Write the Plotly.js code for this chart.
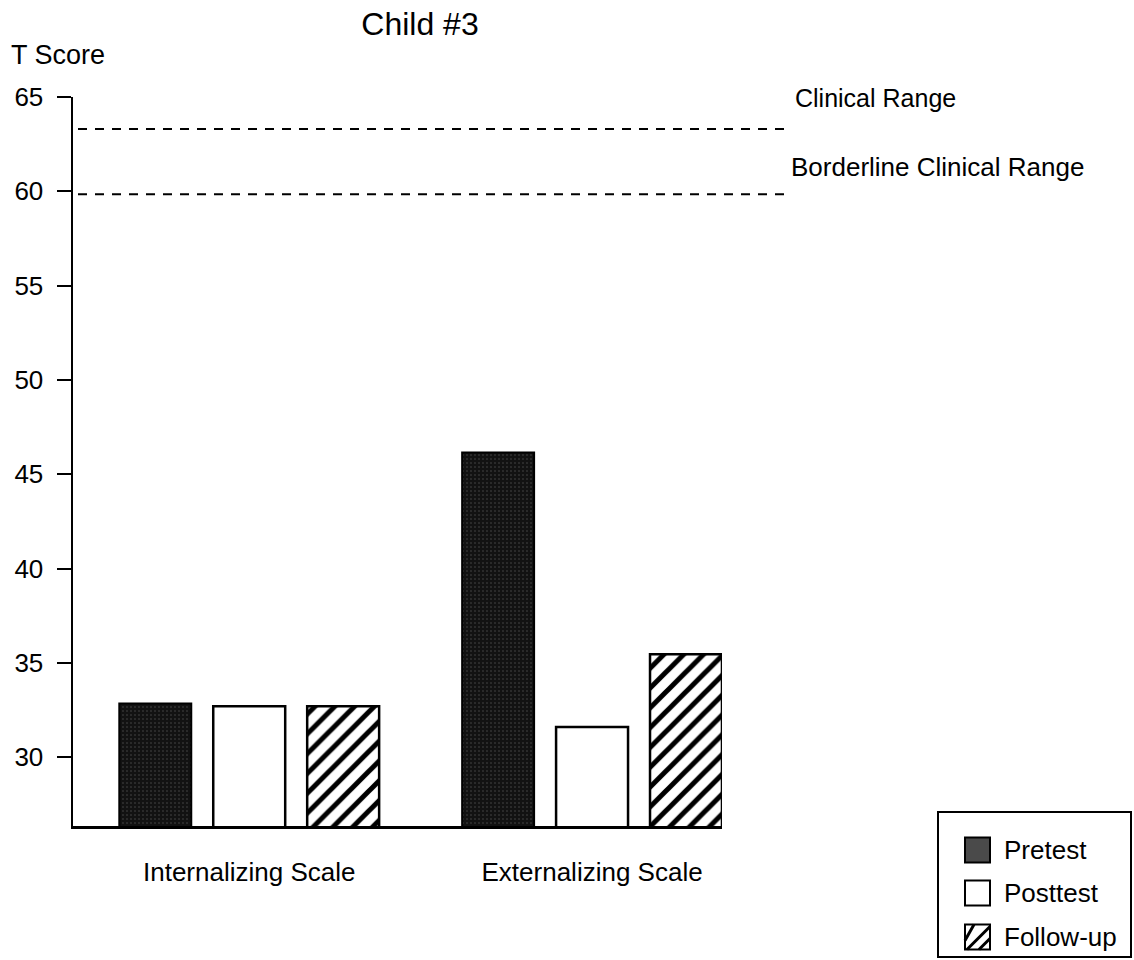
<!DOCTYPE html>
<html>
<head>
<meta charset="utf-8">
<script src="https://cdn.plot.ly/plotly-3.0.1.min.js"></script>
<style>html,body{margin:0;padding:0;background:#fff;}#chart{width:1134px;height:960px;}</style>
</head>
<body>
<div id="chart"></div>
<script>
// ---- data ----
const categories = ['Internalizing Scale', 'Externalizing Scale'];
const seriesNames = ['Pretest', 'Posttest', 'Follow-up'];
const pretest = [32.85, 46.15];
const posttest = [32.7, 31.6];
const followup = [32.7, 35.45];
const yTickVals = [30, 35, 40, 45, 50, 55, 60, 65];
const referenceLines = [63.3, 59.85];
const referenceLabels = ['Clinical Range', 'Borderline Clinical Range'];
const chartTitle = 'Child #3';
const yLabel = 'T Score';

// ---- layout geometry ----
const W = 1134, H = 960;
const M = {l: 73, r: 412, t: 97, b: 134};
const PW = W - M.l - M.r, PH = H - M.t - M.b;
const px = X => (X - M.l) / PW;
const py = Y => (H - M.b - Y) / PH;
const FONT = '"Liberation Sans", Arial, Helvetica, sans-serif';

const styles = [
  {color: '#141414', line: {color: '#000', width: 2},
   pattern: {shape: '.', bgcolor: '#121212', fgcolor: '#4a4a4a', size: 4, solidity: 0.12}},
  {color: '#ffffff', line: {color: '#000', width: 2.5}},
  {color: '#ffffff', line: {color: '#000', width: 2.5},
   pattern: {shape: '/', bgcolor: '#ffffff', fgcolor: '#000000', size: 14, solidity: 0.36, fillmode: 'replace'}}
];
const series = [pretest, posttest, followup];

const traces = series.map((vals, i) => ({
  type: 'bar', name: seriesNames[i], x: categories, y: vals,
  marker: Object.assign({color: styles[i].color, line: styles[i].line},
                        styles[i].pattern ? {pattern: styles[i].pattern} : {}),
  showlegend: false, hoverinfo: 'x+y+name'
}));

const shapes = [];
const annotations = [];

// reference dashed lines
const labelShift = [31, 27];
referenceLines.forEach((v, i) => {
  shapes.push({type: 'line', xref: 'paper', yref: 'y', x0: px(78), x1: px(790), y0: v, y1: v,
               line: {color: '#000', width: 2, dash: '9px,8px'}, layer: 'above'});
  annotations.push({xref: 'paper', yref: 'y', x: px([793, 789][i]), y: v, yshift: labelShift[i],
                    xanchor: 'left', yanchor: 'middle', showarrow: false,
                    text: referenceLabels[i], font: {family: FONT, size: [25, 26][i], color: '#000'}});
});

// y label
annotations.push({xref: 'paper', yref: 'paper', x: px(9), y: py(55), xanchor: 'left', yanchor: 'middle',
                  showarrow: false, text: yLabel, font: {family: FONT, size: 27, color: '#000'}});

// custom legend
shapes.push({type: 'rect', xref: 'paper', yref: 'paper', x0: px(938), x1: px(1131), y0: py(957), y1: py(812),
             line: {color: '#000', width: 2}, fillcolor: '#fff', layer: 'above'});
const rowY = [850, 893, 937];
const sw = 25, sx = 965;
seriesNames.forEach((name, i) => {
  const y0 = rowY[i] - sw / 2, y1 = rowY[i] + sw / 2;
  const fill = i === 0 ? '#4a4a4a' : '#fff';
  shapes.push({type: 'rect', xref: 'paper', yref: 'paper', x0: px(sx), x1: px(sx + sw), y0: py(y1), y1: py(y0),
               line: {color: '#000', width: 2}, fillcolor: fill, layer: 'above'});
  if (i === 2) {
    const segs = [[sx, y1 - 9, sx + 9, y0], [sx + 2, y1, sx + sw, y0 + 2], [sx + 14, y1, sx + sw, y0 + 14]];
    segs.forEach(s => shapes.push({type: 'line', xref: 'paper', yref: 'paper',
      x0: px(s[0]), y0: py(s[1]), x1: px(s[2]), y1: py(s[3]), line: {color: '#000', width: 3}, layer: 'above'}));
  }
  annotations.push({xref: 'paper', yref: 'paper', x: px(1002), y: py(rowY[i]), xanchor: 'left', yanchor: 'middle',
                    showarrow: false, text: name, font: {family: FONT, size: 26, color: '#000'}});
});

const layout = {
  width: W, height: H,
  margin: M,
  paper_bgcolor: '#fff', plot_bgcolor: '#fff',
  font: {family: FONT, color: '#000'},
  title: {text: chartTitle, xref: 'container', yref: 'container', x: 420 / W, y: 1 - 24 / H,
          xanchor: 'center', yanchor: 'middle', font: {family: FONT, size: 32, color: '#000'}},
  barmode: 'group', bargap: 0.178, bargroupgap: 0.234,
  xaxis: {type: 'category', range: [-0.514, 1.379], showline: true, linecolor: '#000', linewidth: 2.5,
          ticks: '', showgrid: false, zeroline: false, ticklabelstandoff: 21,
          tickfont: {family: FONT, size: 26, color: '#000'}},
  yaxis: {range: [26.35, 65], tickvals: yTickVals, showline: true, linecolor: '#000', linewidth: 2.5,
          ticks: 'outside', ticklen: 14, tickwidth: 2, tickcolor: '#000', showgrid: false, zeroline: false,
          ticklabelstandoff: 8, tickfont: {family: FONT, size: 26, color: '#000'}},
  shapes: shapes, annotations: annotations, showlegend: false
};

Plotly.newPlot('chart', traces, layout, {displayModeBar: false, staticPlot: true});
</script>
</body>
</html>
